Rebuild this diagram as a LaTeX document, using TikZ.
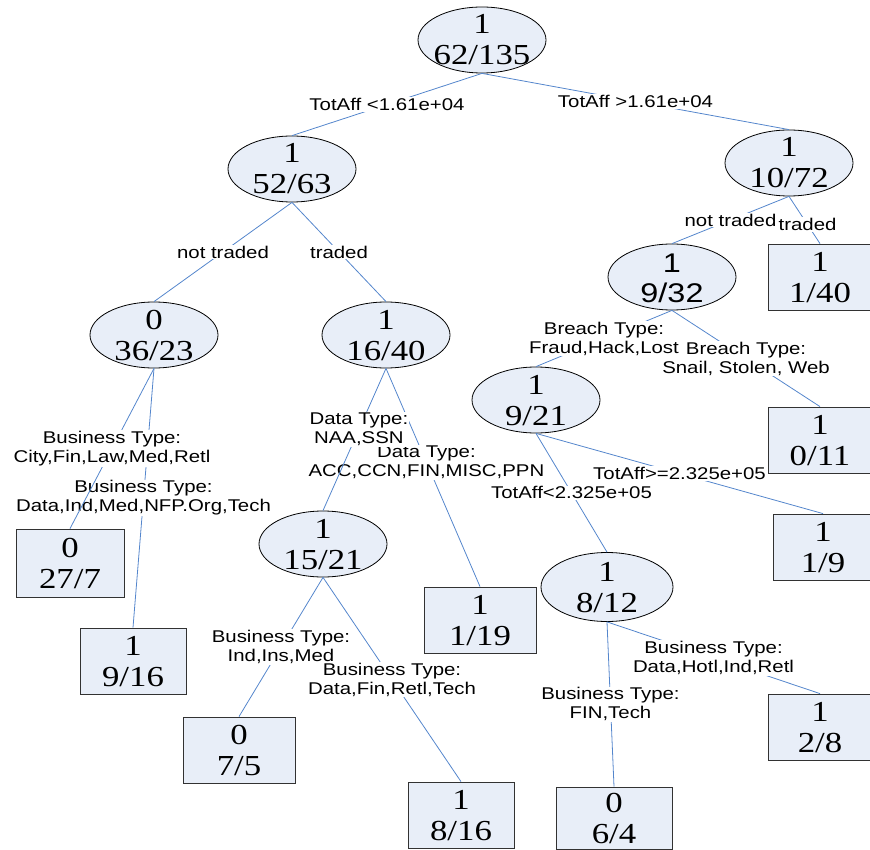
\documentclass[tikz,border=0pt]{standalone}
\usepackage{fontspec}
\usetikzlibrary{shapes.geometric}

\newfontfamily\numfont[FakeStretch=1.2]{Liberation Serif}
\newfontfamily\lblfont[FakeStretch=1.2]{Liberation Sans}

\definecolor{fondo}{RGB}{232,238,248}
\definecolor{azul}{RGB}{84,134,204}
\definecolor{borde}{RGB}{50,50,50}

\tikzset{
  nodo/.style={ellipse, draw=black, fill=fondo, line width=0.8pt,
    inner xsep=-4pt, inner ysep=-2pt, minimum width=128pt, minimum height=66pt,
    align=center, font=\numfont\fontsize{29}{31}\selectfont,
    text height=50pt, text depth=0pt},
  hoja/.style={rectangle, draw=borde, fill=fondo, line width=0.8pt,
    inner sep=0pt, minimum width=106pt, minimum height=66pt,
    align=center, font=\numfont\fontsize{29}{31}\selectfont,
    text height=50pt, text depth=0pt},
  rama/.style={draw=azul, line width=0.8pt},
  cond/.style={fill=white, inner sep=1pt, align=center,
    font=\lblfont\fontsize{17}{19}\selectfont},
}

\begin{document}
\begin{tikzpicture}[x=1pt, y=-1pt]

    \useasboundingbox (0,0) rectangle (870,850);

    % Nodos internos
    \node[nodo] (raiz) at (482,40) {1\\62/135};
    \node[nodo] (a) at (292,169) {1\\52/63};
    \node[nodo] (b) at (789,163) {1\\10/72};
    \node[nodo] (a1) at (154,335) {0\\36/23};
    \node[nodo] (a2) at (386,335) {1\\16/40};
    \node[nodo, font=\lblfont\fontsize{27}{30}\selectfont] (b1) at (672,277) {1\\9/32};
    \node[nodo] (b11) at (536,400) {1\\9/21};
    \node[nodo] (a21) at (323,544) {1\\15/21};
    \node[nodo, minimum width=132pt, minimum height=69pt] (b111) at (607,587) {1\\8/12};

    % Hojas
    \node[hoja, minimum width=104pt] (b2) at (820,277) {1\\1/40};
    \node[hoja, minimum width=104pt] (b12) at (820,440) {1\\0/11};
    \node[hoja, minimum width=100pt] (b112) at (823,547) {1\\1/9};
    \node[hoja, minimum width=104pt] (b1112) at (820,727) {1\\2/8};
    \node[hoja, minimum width=116pt, minimum height=62pt] (b1111) at (614,818) {0\\6/4};
    \node[hoja, minimum width=108pt, minimum height=68pt] (a11) at (70,563) {0\\27/7};
    \node[hoja] (a12) at (133,661) {1\\9/16};
    \node[hoja, minimum width=112pt] (a22) at (480,620) {1\\1/19};
    \node[hoja, minimum width=112pt] (a211) at (239,750) {0\\7/5};
    \node[hoja] (a212) at (461,815) {1\\8/16};

    % Ramas con sus condiciones
    \draw[rama] (raiz.south) -- node[cond] {TotAff <1.61e+04} (a.north);
    \draw[rama] (raiz.south) -- node[cond] {TotAff >1.61e+04} (b.north);

    \draw[rama] (a.south) -- node[cond] {not traded} (a1.north);
    \draw[rama] (a.south) -- node[cond] {traded} (a2.north);
    \draw[rama] (b.south) -- node[cond, pos=0.6] {traded} (b2.north);
    \draw[rama] (b.south) -- node[cond] {not traded} (b1.north);

    \draw[rama] (a1.south) -- node[cond] {Business Type:\\Data,Ind,Med,NFP.Org,Tech} (a12.north);
    \draw[rama] (a1.south) -- node[cond] {Business Type:\\City,Fin,Law,Med,Retl} (a11.north);
    \draw[rama] (a2.south) -- node[cond, pos=0.43] {Data Type:\\ACC,CCN,FIN,MISC,PPN} (a22.north);
    \draw[rama] (a2.south) -- node[cond, pos=0.43] {Data Type:\\NAA,SSN} (a21.north);

    \draw[rama] (b1.south) -- node[cond] {Breach Type:\\Snail, Stolen, Web} (b12.north);
    \draw[rama] (b1.south) -- node[cond] {Breach Type:\\Fraud,Hack,Lost} (b11.north);
    \draw[rama] (b11.south) -- node[cond] {TotAff>=2.325e+05} (b112.north);
    \draw[rama] (b11.south) -- node[cond] {TotAff<2.325e+05} (b111.north);

    \draw[rama] (a21.south) -- node[cond] {Business Type:\\Ind,Ins,Med} (a211.north);
    \draw[rama] (a21.south) -- node[cond] {Business Type:\\Data,Fin,Retl,Tech} (a212.north);
    \draw[rama] (b111.south) -- node[cond] {Business Type:\\Data,Hotl,Ind,Retl} (b1112.north);
    \draw[rama] (b111.south) -- node[cond] {Business Type:\\FIN,Tech} (b1111.north);

  \end{tikzpicture}
\end{document}
